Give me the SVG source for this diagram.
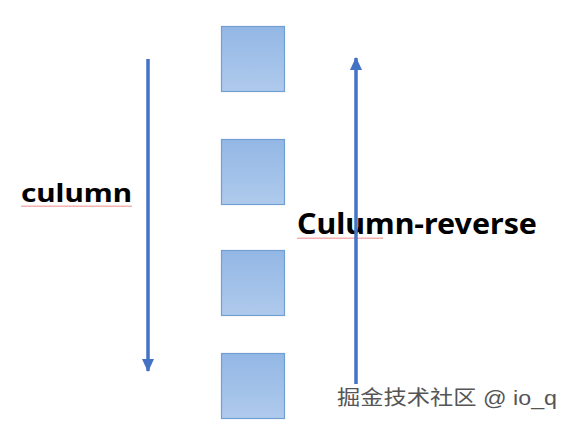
<svg xmlns="http://www.w3.org/2000/svg" width="572" height="426" viewBox="0 0 572 426">
<defs>
<linearGradient id="g" x1="0" y1="0" x2="0" y2="1">
<stop offset="0" stop-color="#93b7e5"/>
<stop offset="1" stop-color="#afcaec"/>
</linearGradient>
<marker id="ah" markerWidth="13" markerHeight="12" refX="12" refY="6" orient="auto" markerUnits="userSpaceOnUse" viewBox="0 0 13 12">
<path d="M0,0 L13,6 L0,12 Z" fill="#4472c4"/>
</marker>
<pattern id="wave" width="4" height="4" patternUnits="userSpaceOnUse">
<path d="M0,3 L1,1.5 L2,3 L3,1.5 L4,3" fill="none" stroke="#f08080" stroke-width="0.7"/>
</pattern>
</defs>
<style>
.box{fill:url(#g);stroke:#729fd2;stroke-width:1.2}
.lbl{font-family:"Noto Sans","Liberation Sans",sans-serif;font-weight:bold;fill:#000}
.wm{font-family:"Liberation Sans","Noto Sans CJK SC",sans-serif;fill:#555;font-size:20px}
.arr{stroke:#4472c4;stroke-width:3.5;fill:none}
</style>
<rect width="572" height="426" fill="#fff"/>
<g id="box1"><rect class="box" x="221.5" y="26.5" width="63" height="65"/></g>
<g id="box2"><rect class="box" x="221.5" y="139.5" width="63" height="65"/></g>
<g id="box3"><rect class="box" x="221.5" y="250.5" width="63" height="65"/></g>
<g id="box4"><rect class="box" x="221.5" y="353.5" width="63" height="65"/></g>
<g id="label-column">
<text class="lbl" x="21" y="202" font-size="25" textLength="111" lengthAdjust="spacingAndGlyphs">culumn</text>
<rect x="21" y="204" width="111" height="4" fill="url(#wave)"/>
</g>
<g id="label-reverse">
<text class="lbl" x="297" y="234" font-size="29" textLength="240" lengthAdjust="spacingAndGlyphs">Culumn-reverse</text>
<rect x="297" y="236" width="86" height="4" fill="url(#wave)"/>
</g>
<g id="connectors">
<line class="arr" x1="148" y1="59" x2="148" y2="371" marker-end="url(#ah)"/>
<line class="arr" x1="356" y1="384" x2="356" y2="58" marker-end="url(#ah)"/>
</g>
<text class="wm" x="337" y="405" textLength="220" lengthAdjust="spacingAndGlyphs">掘金技术社区 @ io_q</text>
</svg>
